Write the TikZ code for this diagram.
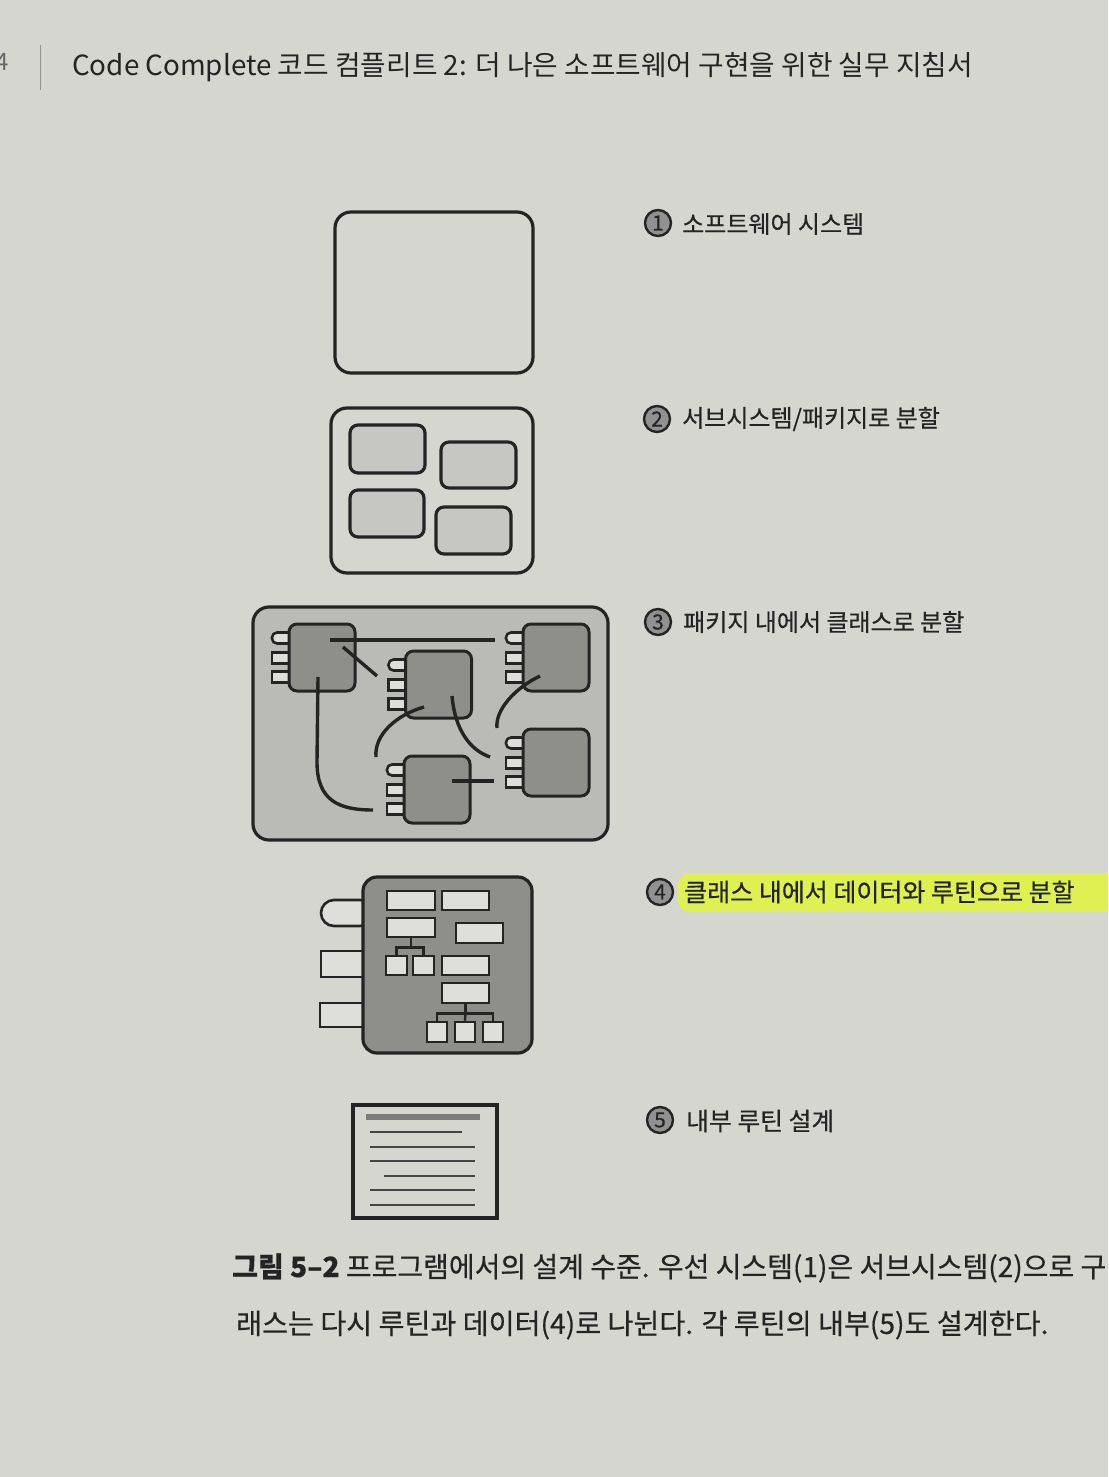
\documentclass[tikz,border=0pt]{standalone}
\usepackage{fontspec}
\setmainfont{Noto Sans CJK KR}
\newfontfamily\krmed{Noto Sans CJK KR}[FakeBold=0.5]
\usepackage{tikz}
\definecolor{pagebg}{RGB}{214,214,209}
\definecolor{ink}{RGB}{36,36,36}
\definecolor{pkgfill}{RGB}{186,186,182}
\definecolor{clsfill}{RGB}{142,142,139}
\definecolor{subfill}{RGB}{198,198,194}
\definecolor{tabfill}{RGB}{222,222,218}
\definecolor{marker}{RGB}{222,240,82}

\begin{document}
\begin{tikzpicture}[x=1pt,y=-1pt,
  frame/.style={draw=ink,line width=3.2pt,rounded corners=16pt,inner sep=0pt},
  subbox/.style={draw=ink,line width=3.2pt,fill=subfill,rounded corners=8pt,inner sep=0pt},
  cls/.style={draw=ink,line width=3pt,fill=clsfill,rounded corners=8pt,
    minimum width=66pt,minimum height=67pt,inner sep=0pt},
  tabbox/.style={draw=ink,line width=2.6pt,fill=tabfill,minimum width=25pt,
    minimum height=11pt,inner sep=0pt},
  item/.style={draw=ink,line width=2.6pt,fill=tabfill,inner sep=0pt},
  num/.style={circle,draw=ink,line width=2.4pt,fill=ink!50,minimum size=26pt,
    inner sep=0pt,text=ink,font=\krmed\fontsize{21}{21}\selectfont},
  lbl/.style={anchor=west,inner sep=0pt,text=ink,font=\krmed\fontsize{24}{24}\selectfont}]
\useasboundingbox (0,0) rectangle (1108,1477);
\fill[pagebg] (0,0) rectangle (1108,1477);
\begin{scope}
\clip (0,0) rectangle (1108,1477);

\node[anchor=east,text=ink!70,inner sep=0pt,font=\fontsize{24}{24}\selectfont] (pg) at (9,62) {4};
\draw[ink!50,line width=1pt] (40,45) -- (40,90);
\node[anchor=west,inner sep=0pt,text=ink,font=\fontsize{27.8}{28}\selectfont] (head) at (72,67)
  {Code Complete 코드 컴플리트 2: 더 나은 소프트웨어 구현을 위한 실무 지침서};

\node[frame,minimum width=198pt,minimum height=161pt] (sys) at (434,292.5) {};

\node[frame,minimum width=202pt,minimum height=165pt] (pkg) at (432,490.5) {};
\node[subbox,minimum width=75pt,minimum height=48pt] (sa) at (387.5,449) {};
\node[subbox,minimum width=75pt,minimum height=46pt] (sb) at (478.5,465) {};
\node[subbox,minimum width=74pt,minimum height=47pt] (sc) at (387,513.5) {};
\node[subbox,minimum width=75pt,minimum height=47pt] (sd) at (473.5,530.5) {};

\node[frame,fill=pkgfill,minimum width=355pt,minimum height=233pt] (cls) at (430.5,723.5) {};
\foreach \n/\cx/\cy in {ca/322/657.5,cb/438.5/684.5,cc/556/657.5,cd/556/762.5,ce/437/789.5}{
  \node[tabbox,rounded corners=5pt] (\n-t1) at (\cx-37.5,\cy-19.5) {};
  \node[tabbox] (\n-t2) at (\cx-37.5,\cy+0.5) {};
  \node[tabbox] (\n-t3) at (\cx-37.5,\cy+19.5) {};
  \node[cls] (\n) at (\cx,\cy) {};
}
\begin{scope}[draw=ink,line width=3.4pt]
\draw ([shift={(8,-17.5)}]ca.center) -- ([shift={(-61,-17.5)}]cc.center);
\draw ([shift={(21,-10.5)}]ca.center) -- ([shift={(-61.5,-8.5)}]cb.center);
\draw ([shift={(-4,19.5)}]ca.center) -- ++(-1,85)
  .. controls +(0,38) and +(-35,0) .. ([shift={(-64,20.5)}]ce.center);
\draw ([shift={(-14.5,22.5)}]cb.center)
  .. controls +(-28,8) and +(-2,-22) .. ([shift={(-61,-32.5)}]ce.center);
\draw ([shift={(13.5,11.5)}]cb.center)
  .. controls +(3,34) and +(-20,-7) .. ([shift={(-66,-5.5)}]cd.center);
\draw ([shift={(-16,18.5)}]cc.center)
  .. controls +(-25,12) and +(-2,-18) .. ([shift={(-59,-34.5)}]cd.center);
\draw ([shift={(15,-8.5)}]ce.center) -- ([shift={(-62,18.5)}]cd.center);
\end{scope}

\node[item,rounded corners=13pt,minimum width=52pt,minimum height=26pt] (da) at (347,913) {};
\node[item,minimum width=52pt,minimum height=26pt] (db) at (347,964) {};
\node[item,minimum width=53pt,minimum height=24pt] (dc) at (346.5,1015) {};
\node[draw=ink,line width=3.2pt,fill=clsfill,rounded corners=14pt,minimum width=169pt,
  minimum height=176pt,inner sep=0pt] (rt) at (447.5,965) {};
\node[item,minimum width=48pt,minimum height=19pt] (r1) at (411,900.5) {};
\node[item,minimum width=47pt,minimum height=19pt] (r2) at (465.5,900.5) {};
\node[item,minimum width=48pt,minimum height=19pt] (r3) at (411,927.5) {};
\node[item,minimum width=47pt,minimum height=20pt] (r4) at (479.5,933) {};
\node[item,minimum width=21pt,minimum height=19pt] (s1) at (396.5,965.5) {};
\node[item,minimum width=21pt,minimum height=19pt] (s2) at (423.5,965.5) {};
\node[item,minimum width=47pt,minimum height=19pt] (r5) at (465.5,965.5) {};
\node[item,minimum width=47pt,minimum height=20pt] (r6) at (465.5,993) {};
\node[item,minimum width=20pt,minimum height=20pt] (t1) at (437,1032) {};
\node[item,minimum width=20pt,minimum height=20pt] (t2) at (465,1032) {};
\node[item,minimum width=20pt,minimum height=20pt] (t3) at (493,1032) {};
\begin{scope}[draw=ink,line width=2.4pt]
\draw (r3.south) -- ++(0,9) coordinate (k1);
\draw (s1.north) |- (k1) -| (s2.north);
\draw (r6.south) -- ++(0,9) coordinate (k2);
\draw (t1.north) |- (k2) -| (t3.north);
\draw (k2) -- (t2.north);
\end{scope}

\node[draw=ink,line width=3.8pt,minimum width=144pt,minimum height=113pt,inner sep=0pt] (doc) at (425,1161.5) {};
\draw[ink!60,line width=5.5pt] ([shift={(15,14)}]doc.north west) -- ([shift={(129,14)}]doc.north west);
\foreach \y/\a/\b in {29/19/111,44/19/124,58/19/124,73/33/124,87/19/124,102/19/124}
  \draw[ink!85,line width=2.6pt] ([shift={(\a,\y)}]doc.north west) -- ([shift={(\b,\y)}]doc.north west);

\fill[marker,rounded corners=12pt] (678,873) rectangle (1120,912);

\node[num] (n1) at (658,223) {1};
\node[lbl] (l1) at (682,224) {소프트웨어 시스템};
\node[num] (n2) at (657,419) {2};
\node[lbl] (l2) at (682,419) {서브시스템/패키지로 분할};
\node[num] (n3) at (658,622) {3};
\node[lbl] (l3) at (683,622) {패키지 내에서 클래스로 분할};
\node[num] (n4) at (660,892) {4};
\node[lbl,font=\krmed\fontsize{25}{25}\selectfont] (l4) at (684,892) {클래스 내에서 데이터와 루틴으로 분할};
\node[num] (n5) at (660,1120) {5};
\node[lbl,font=\krmed\fontsize{24.8}{25}\selectfont] (l5) at (686,1121) {내부 루틴 설계};

\node[anchor=west,inner sep=0pt,text=ink,font=\krmed\fontsize{28}{28}\selectfont] (cap1) at (232,1268)
  {\textbf{그림 5–2} 프로그램에서의 설계 수준. 우선 시스템(1)은 서브시스템(2)으로 구};
\node[anchor=west,inner sep=0pt,text=ink,font=\krmed\fontsize{28.2}{28}\selectfont] (cap2) at (236,1325)
  {래스는 다시 루틴과 데이터(4)로 나뉜다. 각 루틴의 내부(5)도 설계한다.};
\end{scope}
\end{tikzpicture}
\end{document}
